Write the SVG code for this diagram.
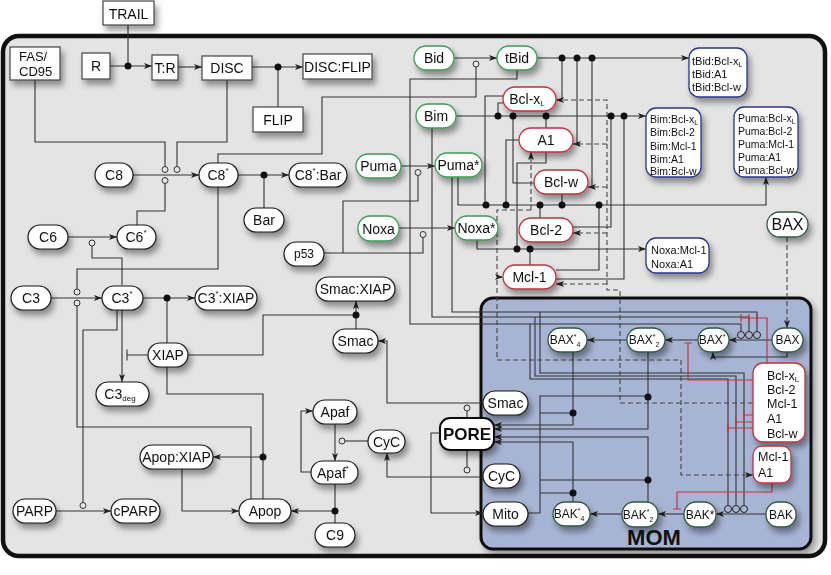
<svg xmlns="http://www.w3.org/2000/svg" width="831" height="575" viewBox="0 0 831 575">
<style>
text{font-family:"Liberation Sans",Arial,sans-serif;font-size:14px;fill:#111;dominant-baseline:central;text-anchor:middle}
.sm{font-size:12px}
.cx{font-size:10.5px;text-anchor:start}
.cb{font-size:12.5px;text-anchor:start}
.nd{fill:#fff;stroke:#1a1a1a;stroke-width:1.2}
.rc{fill:#fff;stroke:#444;stroke-width:1.2}
.gr{fill:#fff;stroke:#3f9a55;stroke-width:1.3}
.rd{fill:#fff;stroke:#c0313c;stroke-width:1.3}
.bl{fill:#fff;stroke:#2a3685;stroke-width:1.3}
.dg{fill:#fff;stroke:#2f5a42;stroke-width:1.3}
.ln{fill:none;stroke:#333;stroke-width:1.1}
.ar{marker-end:url(#ah)}
.ds{fill:none;stroke:#444;stroke-width:1.1;stroke-dasharray:5 3}
.rl{fill:none;stroke:#c8323c;stroke-width:1.2}
.dot{fill:#111}
.mod{fill:#e4e4e4;stroke:#333;stroke-width:1}
.modm{fill:#a7b4d3;stroke:#222;stroke-width:1}
</style>
<defs>
<marker id="ah" markerUnits="userSpaceOnUse" markerWidth="8" markerHeight="6" refX="8" refY="3" orient="auto"><path d="M0,0 L8,3 L0,6 L2,3 z" fill="#222"/></marker>
<filter id="sh" x="-30%" y="-40%" width="170%" height="200%"><feGaussianBlur in="SourceAlpha" stdDeviation="3"/><feOffset dx="3" dy="5"/><feComponentTransfer><feFuncA type="linear" slope="0.4"/></feComponentTransfer><feMerge><feMergeNode/><feMergeNode in="SourceGraphic"/></feMerge></filter>
<filter id="shm" x="-10%" y="-10%" width="125%" height="125%"><feGaussianBlur in="SourceAlpha" stdDeviation="3"/><feOffset dx="3" dy="4"/><feComponentTransfer><feFuncA type="linear" slope="0.35"/></feComponentTransfer><feMerge><feMergeNode/><feMergeNode in="SourceGraphic"/></feMerge></filter>
</defs>
<rect x="0" y="0" width="831" height="575" fill="#fff"/>
<rect id="cell" x="3" y="36" width="822" height="520" rx="16" fill="#e4e4e4" stroke="#111" stroke-width="4.5"/>
<g id="MOM"><rect x="481" y="298" width="330" height="251" rx="12" fill="#a7b4d3" stroke="#111" stroke-width="3" filter="url(#shm)"/><text x="654" y="537" style="font-size:22px;font-weight:bold">MOM</text></g>

<g id="connectors">
<path class="ln" d="M128,25 V66"/>
<path class="ln ar" d="M110,66 H152"/>
<path class="ln ar" d="M178,67 H202"/>
<path class="ln ar" d="M252,67 H303"/>
<path class="ln" d="M278,107 V67"/>
<path class="ln" d="M35,80 V142 H165 V166"/>
<path class="ln" d="M227,80 V142 H177 V166"/>
<path class="ln ar" d="M133,175 H199"/>
<path class="ln" d="M137,225 V211 H165 V183.5"/>
<path class="ln ar" d="M238,175 H289"/>
<path class="ln" d="M264,175 V208"/>
<path class="ln" d="M218,163 V154 H322 V97 H476 V67"/>
<path class="ln" d="M218,187 V269 H77 V289"/>
<path class="ln ar" d="M51,298 H102"/>
<path class="ln" d="M122,285 V258 H92 V246"/>
<path class="ln ar" d="M68,237 H117"/>
<path class="ln" d="M77,306 V427 H251 V499"/>
<path class="ln" d="M117,309 V330 H83 V502"/>
<path class="ln ar" d="M143,298 H195"/>
<path class="ln" d="M167,298 V343"/>
<path class="ln ar" d="M122,309 V382"/>
<path class="ln" d="M148,355 H127 M127,349.5 V360.5"/>
<path class="ln" d="M167,367 V394 H263 V499"/>
<path class="ln ar" d="M263,457 H213"/>
<path class="ln ar" d="M182,469 V511 H239"/>
<path class="ln" d="M188,355 H263 V315 H356"/>
<path class="ln ar" d="M356,329 V301"/>
<path class="ln ar" d="M483,403 H387 V341 H378"/>
<path class="ln ar" d="M483,477 H387 V453"/>
<path class="ln" d="M368,441 H345"/>
<path class="ln ar" d="M335,424 V461"/>
<path class="ln ar" d="M311,472 H301 V411 H313"/>
<path class="ln" d="M335,484 V523"/>
<path class="ln ar" d="M335,511 H291"/>
<path class="ln ar" d="M56,511 H111"/>
<path class="ln" d="M467,411 V418 M467,450 V467"/>
<path class="ln ar" d="M440,433 H431 V513 H483"/>
<path class="ln ar" d="M454,58 H497"/>
<path class="ln ar" d="M537,58 H689"/>
<path class="ln" d="M562,58 V100 M577,58 V144 M592,58 V187"/>
<path class="ln" d="M517,70 V79 H410 V324 H741 V331"/>
<path class="ln ar" d="M456,116 H646"/>
<path class="ln" d="M498,116 V103 H503 M513,116 V183 H534 M546,116 V128"/>
<path class="ln" d="M611,116 V227 H573 M624,116 V279 H556"/>
<path class="ln" d="M503,96 H485 V205 M519,140 H506 V205"/>
<path class="ln" d="M546,152 V163 H517 V249"/>
<path class="ln ar" d="M401,166 H435"/>
<path class="ln" d="M324,253 H423 V237.5 M343,253 V201 H418 V175.5"/>
<path class="ln ar" d="M399,228 H455"/>
<path class="ln ar" d="M458,177 V205 H766 V177"/>
<path class="ln" d="M540,205 V218 M562,205 V194 M599,205 V270 H556"/>
<path class="ln ar" d="M477,240 V249 H646"/>
<path class="ln" d="M530,249 V265"/>
<path class="ln" d="M452,177 V312 H757 V331"/>
<path class="ln" d="M432,128 V317 H749 V331"/>
<path class="ln" d="M540,312 V373 H744 V505 M535,317 V376 H736 V505 M530,324 V379 H728 V505"/>
<path class="ds ar" d="M753,403 H620 V290 H607 V100 H556"/>
<path class="ds ar" d="M607,144 H573"/>
<path class="ds ar" d="M607,187 H588"/>
<path class="ds ar" d="M607,233 H573"/>
<path class="ds ar" d="M607,284 H556"/>
<path class="ds ar" d="M531,210 V152"/>
<path class="ds ar" d="M531,210 H497 V360 H681 V475 H753"/>
<path class="ds ar" d="M497,277 H503"/>
<path class="ds ar" d="M787,237 V328"/>
<path class="ln ar" d="M772,340 H729"/>
<path class="ln ar" d="M787,352 V357 H713 V352"/>
<path class="ln ar" d="M698,340 H665"/>
<path class="ln ar" d="M627,340 H587"/>
<path class="ln ar" d="M766,514 H716"/>
<path class="ln ar" d="M684,514 H658"/>
<path class="ln ar" d="M622,514 H590"/>
<path class="ln ar" d="M573,352 V425 H494"/>
<path class="ln ar" d="M648,352 V429 H494"/>
<path class="ln ar" d="M648,502 V437 H494"/>
<path class="ln ar" d="M573,502 V442 H494"/>
<path class="ln" d="M528,513 H540 V396 H648 M540,413 H573 M540,480 H648 M540,493 H573"/>
<path class="rl" d="M767,363 V318 H741 M757,314 V322 M749,314 V322 M741,314 V322"/>
<path class="rl" d="M753,380 H688 V343 M684,343 H692"/>
<path class="rl" d="M753,415 H744 M744,411 V419 M753,422 H736 M736,418 V426 M753,428 H728 M728,424 V432"/>
<path class="rl" d="M772,483 V492 H677 V509 M673,509 H681"/>
<g class="dot">
<circle cx="128" cy="66" r="3.5"/><circle cx="278" cy="67" r="3.5"/><circle cx="264" cy="175" r="3.5"/><circle cx="167" cy="298" r="3.5"/><circle cx="263" cy="457" r="3.5"/><circle cx="356" cy="315" r="3.5"/><circle cx="335" cy="511" r="3.5"/>
<circle cx="562" cy="58" r="3.5"/><circle cx="577" cy="58" r="3.5"/><circle cx="592" cy="58" r="3.5"/>
<circle cx="498" cy="116" r="3.5"/><circle cx="513" cy="116" r="3.5"/><circle cx="546" cy="116" r="3.5"/><circle cx="611" cy="116" r="3.5"/><circle cx="624" cy="116" r="3.5"/>
<circle cx="486" cy="205" r="3.5"/><circle cx="506" cy="205" r="3.5"/><circle cx="540" cy="205" r="3.5"/><circle cx="562" cy="205" r="3.5"/><circle cx="599" cy="205" r="3.5"/>
<circle cx="517" cy="249" r="3.5"/><circle cx="530" cy="249" r="3.5"/>
<circle cx="573" cy="413" r="3.5"/><circle cx="648" cy="397" r="3.5"/><circle cx="573" cy="493" r="3.5"/><circle cx="648" cy="480" r="3.5"/>
</g>
<circle class="mod" cx="165" cy="169.5" r="3"/><circle class="mod" cx="177" cy="169.5" r="3"/><circle class="mod" cx="165" cy="180.5" r="3"/>
<circle class="mod" cx="92" cy="243" r="3"/><circle class="mod" cx="77" cy="292" r="3"/><circle class="mod" cx="77" cy="303" r="3"/>
<circle class="mod" cx="83" cy="505.5" r="3"/><circle class="mod" cx="342" cy="441" r="3"/>
<circle class="mod" cx="476" cy="64" r="3"/><circle class="mod" cx="418" cy="172.5" r="3"/><circle class="mod" cx="423" cy="234.5" r="3"/>
<circle class="mod" cx="467" cy="408" r="3"/><circle class="mod" cx="467" cy="470" r="3"/>
<circle class="modm" cx="741" cy="335" r="3.5"/><circle class="modm" cx="749" cy="335" r="3.5"/><circle class="modm" cx="757" cy="335" r="3.5"/>
<circle class="modm" cx="728" cy="509" r="3.5"/><circle class="modm" cx="736" cy="509" r="3.5"/><circle class="modm" cx="744" cy="509" r="3.5"/>
</g>

<g filter="url(#sh)">
<g id="TRAIL"><rect class="rc" x="103" y="1" width="51" height="24"/><text x="128.5" y="13.5">TRAIL</text></g>
<g id="FAS"><rect class="rc" x="10" y="47" width="50" height="33"/><text x="19" y="56" style="text-anchor:start;font-size:13px">FAS/</text><text x="19" y="71" style="text-anchor:start;font-size:13px">CD95</text></g>
<g id="R"><rect class="rc" x="82" y="53" width="28" height="26"/><text x="96" y="66">R</text></g>
<g id="TR"><rect class="rc" x="152" y="55" width="26" height="25"/><text x="165" y="67.5">T:R</text></g>
<g id="DISC"><rect class="rc" x="202" y="56" width="50" height="24"/><text x="227" y="68">DISC</text></g>
<g id="DISCFLIP"><rect class="rc" x="303" y="54" width="69" height="25"/><text x="337.5" y="66.5">DISC:FLIP</text></g>
<g id="FLIP"><rect class="rc" x="253" y="107" width="50" height="25"/><text x="278" y="119.5">FLIP</text></g>

<g id="C8"><rect class="nd" x="95" y="163" width="38" height="24" rx="12"/><text x="114" y="175">C8</text></g>
<g id="C8a"><rect class="nd" x="199" y="163" width="39" height="24" rx="12"/><text x="218" y="175">C8<tspan dy="-5" font-size="8">*</tspan></text></g>
<g id="C8Bar"><rect class="nd" x="289" y="163" width="58" height="24" rx="12"/><text x="318" y="175">C8<tspan dy="-5" font-size="8">*</tspan><tspan dy="5">:Bar</tspan></text></g>
<g id="Bar"><rect class="nd" x="244" y="208" width="40" height="24" rx="12"/><text x="264" y="220">Bar</text></g>
<g id="C6"><rect class="nd" x="28" y="225" width="40" height="24" rx="12"/><text x="48" y="237">C6</text></g>
<g id="C6a"><rect class="nd" x="117" y="225" width="39" height="24" rx="12"/><text x="136" y="237">C6<tspan dy="-5" font-size="8">*</tspan></text></g>
<g id="C3"><rect class="nd" x="11" y="286" width="40" height="24" rx="12"/><text x="31" y="298">C3</text></g>
<g id="C3a"><rect class="nd" x="102" y="286" width="41" height="24" rx="12"/><text x="122" y="298">C3<tspan dy="-5" font-size="8">*</tspan></text></g>
<g id="C3XIAP"><rect class="nd" x="195" y="286" width="62" height="24" rx="12"/><text x="226" y="298">C3<tspan dy="-5" font-size="8">*</tspan><tspan dy="5">:XIAP</tspan></text></g>
<g id="XIAP"><rect class="nd" x="148" y="343" width="40" height="24" rx="12"/><text x="168" y="355">XIAP</text></g>
<g id="C3deg"><rect class="nd" x="96" y="382" width="53" height="24" rx="12"/><text x="120" y="394">C3<tspan dy="4" font-size="8">deg</tspan></text></g>
<g id="p53"><rect class="nd" x="284" y="242" width="40" height="24" rx="12"/><text class="sm" x="304" y="254">p53</text></g>
<g id="SmacXIAP"><rect class="nd" x="316" y="277" width="79" height="24" rx="12"/><text x="355.5" y="289">Smac:XIAP</text></g>
<g id="Smac1"><rect class="nd" x="333" y="329" width="45" height="24" rx="12"/><text x="355.5" y="341">Smac</text></g>
<g id="Apaf"><rect class="nd" x="313" y="400" width="44" height="24" rx="12"/><text x="335" y="412">Apaf</text></g>
<g id="Apafa"><rect class="nd" x="311" y="461" width="47" height="23" rx="11.5"/><text x="333" y="472.5">Apaf<tspan dy="-5" font-size="8">*</tspan></text></g>
<g id="CyC1"><rect class="nd" x="368" y="430" width="37" height="23" rx="11.5"/><text x="386.5" y="441.5">CyC</text></g>
<g id="ApopXIAP"><rect class="nd" x="140" y="445" width="73" height="24" rx="12"/><text x="176.5" y="457">Apop:XIAP</text></g>
<g id="Apop"><rect class="nd" x="239" y="499" width="52" height="24" rx="12"/><text x="265" y="511">Apop</text></g>
<g id="C9"><rect class="nd" x="315" y="523" width="40" height="24" rx="12"/><text x="335" y="535">C9</text></g>
<g id="PARP"><rect class="nd" x="13" y="499" width="43" height="24" rx="12"/><text x="34.5" y="511">PARP</text></g>
<g id="cPARP"><rect class="nd" x="111" y="499" width="49" height="24" rx="12"/><text x="135.5" y="511">cPARP</text></g>

<g id="Bid"><rect class="gr" x="414" y="46" width="40" height="24" rx="12"/><text x="434" y="58">Bid</text></g>
<g id="tBid"><rect class="gr" x="497" y="46" width="40" height="24" rx="12"/><text x="517" y="58">tBid</text></g>
<g id="Bim"><rect class="gr" x="416" y="104" width="40" height="24" rx="12"/><text x="436" y="116">Bim</text></g>
<g id="Puma"><rect class="gr" x="356" y="154" width="45" height="24" rx="12"/><text x="378.5" y="166">Puma</text></g>
<g id="Pumaa"><rect class="gr" x="435" y="153" width="47" height="24" rx="12"/><text x="458.5" y="165">Puma*</text></g>
<g id="Noxa"><rect class="gr" x="358" y="216" width="41" height="25" rx="12"/><text x="378.5" y="228.5">Noxa</text></g>
<g id="Noxaa"><rect class="gr" x="455" y="216" width="43" height="24" rx="12"/><text x="476.5" y="228">Noxa*</text></g>
<g id="BclxL"><rect class="rd" x="503" y="87" width="53" height="24" rx="12"/><text x="527" y="99">Bcl-x<tspan dy="4" font-size="8">L</tspan></text></g>
<g id="A1"><rect class="rd" x="519" y="128" width="54" height="24" rx="12"/><text x="546" y="140">A1</text></g>
<g id="Bclw"><rect class="rd" x="534" y="170" width="54" height="24" rx="12"/><text x="561" y="182">Bcl-w</text></g>
<g id="Bcl2"><rect class="rd" x="519" y="218" width="54" height="24" rx="12"/><text x="546" y="230">Bcl-2</text></g>
<g id="Mcl1"><rect class="rd" x="503" y="265" width="53" height="24" rx="12"/><text x="529.5" y="277">Mcl-1</text></g>

<g id="tBidC"><rect class="bl" x="689" y="48" width="58" height="49" rx="10"/><text class="cx" style="font-size:11px" x="692" y="61">tBid:Bcl-x<tspan dy="3" font-size="7">L</tspan></text><text class="cx" style="font-size:11px" x="692" y="74">tBid:A1</text><text class="cx" style="font-size:11px" x="692" y="87">tBid:Bcl-w</text></g>
<g id="BimC"><rect class="bl" x="646" y="108" width="55" height="69" rx="10"/><text class="cx" x="650" y="119">Bim:Bcl-x<tspan dy="3" font-size="7">L</tspan></text><text class="cx" x="650" y="132">Bim:Bcl-2</text><text class="cx" x="650" y="145.5">Bim:Mcl-1</text><text class="cx" x="650" y="158.5">Bim:A1</text><text class="cx" x="650" y="171">Bim:Bcl-w</text></g>
<g id="PumaC"><rect class="bl" x="734" y="107" width="64" height="70" rx="10"/><text class="cx" x="738" y="118">Puma:Bcl-x<tspan dy="3" font-size="7">L</tspan></text><text class="cx" x="738" y="131">Puma:Bcl-2</text><text class="cx" x="738" y="143.5">Puma:Mcl-1</text><text class="cx" x="738" y="156.5">Puma:A1</text><text class="cx" x="738" y="170">Puma:Bcl-w</text></g>
<g id="NoxaC"><rect class="bl" x="646" y="238" width="63" height="35" rx="10"/><text class="cx" style="font-size:11px" x="651" y="250">Noxa:Mcl-1</text><text class="cx" style="font-size:11px" x="651" y="264">Noxa:A1</text></g>
<g id="BAXc"><rect class="dg" x="767" y="212" width="41" height="25" rx="12.5"/><text x="787.5" y="224.5" style="font-size:16px">BAX</text></g>

<g id="PORE"><rect x="440" y="418" width="54" height="32" rx="10" fill="#fff" stroke="#111" stroke-width="2"/><text x="467" y="434" style="font-size:17px;font-weight:bold">PORE</text></g>
<g id="Smac2"><rect class="nd" x="483" y="391" width="45" height="24" rx="12"/><text x="505.5" y="403">Smac</text></g>
<g id="CyC2"><rect class="nd" x="483" y="464" width="37" height="24" rx="12"/><text x="501.5" y="476">CyC</text></g>
<g id="Mito"><rect class="nd" x="483" y="502" width="45" height="24" rx="12"/><text x="505.5" y="514">Mito</text></g>
<g id="BAX"><rect class="dg" x="772" y="328" width="31" height="24" rx="12"/><text class="sm" x="787.5" y="340">BAX</text></g>
<g id="BAXa"><rect class="dg" x="698" y="328" width="31" height="24" rx="12"/><text class="sm" x="712" y="340">BAX<tspan dy="-4" font-size="7">*</tspan></text></g>
<g id="BAX2"><rect class="dg" x="627" y="328" width="38" height="24" rx="12"/><text class="sm" x="644" y="340">BAX<tspan dy="-4" font-size="7">*</tspan><tspan dy="8" font-size="7">2</tspan></text></g>
<g id="BAX4"><rect class="dg" x="548" y="328" width="39" height="24" rx="12"/><text class="sm" x="565" y="340">BAX<tspan dy="-4" font-size="7">*</tspan><tspan dy="8" font-size="7">4</tspan></text></g>
<g id="BAK"><rect class="dg" x="766" y="502" width="30" height="25" rx="12"/><text class="sm" x="781" y="514.5">BAK</text></g>
<g id="BAKa"><rect class="dg" x="684" y="502" width="32" height="25" rx="12"/><text class="sm" x="700" y="514.5">BAK*</text></g>
<g id="BAK2"><rect class="dg" x="622" y="502" width="36" height="25" rx="12"/><text class="sm" x="638" y="514.5">BAK<tspan dy="-4" font-size="7">*</tspan><tspan dy="8" font-size="7">2</tspan></text></g>
<g id="BAK4"><rect class="dg" x="553" y="502" width="37" height="24" rx="12"/><text class="sm" x="569" y="514">BAK<tspan dy="-4" font-size="7">*</tspan><tspan dy="8" font-size="7">4</tspan></text></g>
<g id="BclBox"><rect class="rd" x="753" y="363" width="52" height="79" rx="10"/><text class="cb" x="767" y="376">Bcl-x<tspan dy="3" font-size="8">L</tspan></text><text class="cb" x="767" y="390">Bcl-2</text><text class="cb" x="767" y="404">Mcl-1</text><text class="cb" x="767" y="419">A1</text><text class="cb" x="767" y="434">Bcl-w</text></g>
<g id="McA1"><rect class="rd" x="753" y="446" width="38" height="37" rx="9"/><text class="cb" x="758" y="457">Mcl-1</text><text class="cb" x="758" y="473">A1</text></g>
</g>
</svg>
